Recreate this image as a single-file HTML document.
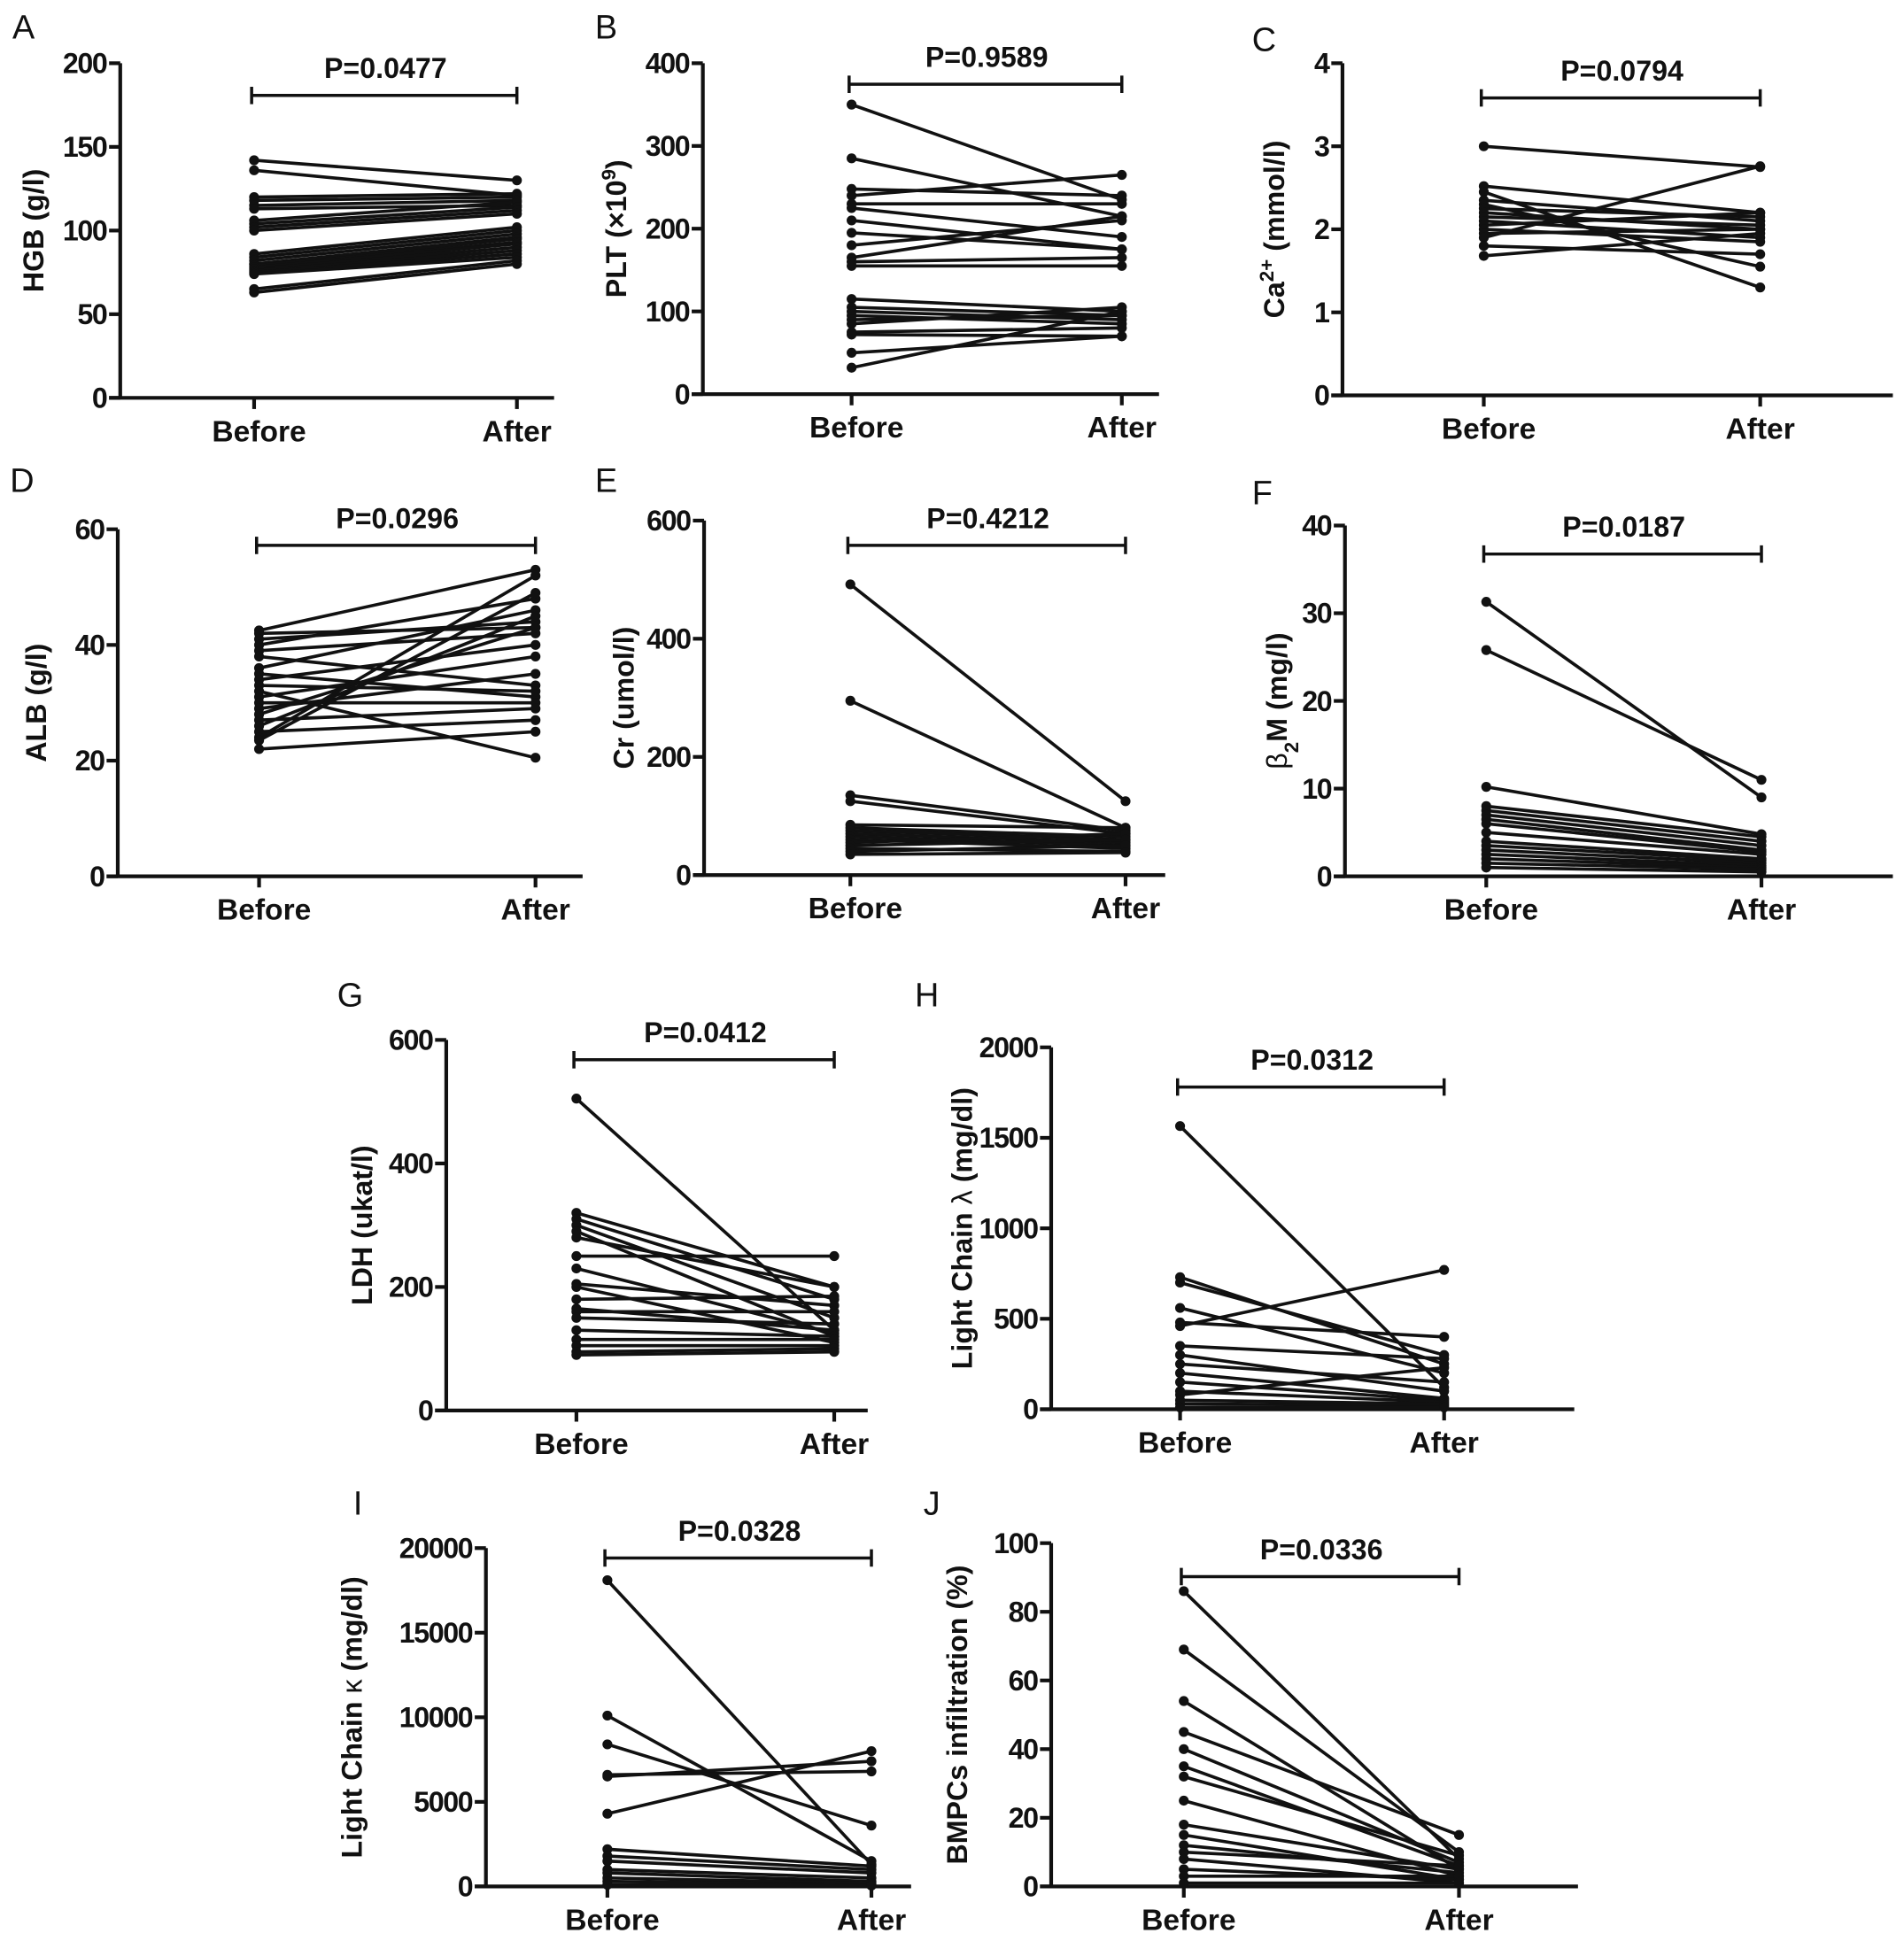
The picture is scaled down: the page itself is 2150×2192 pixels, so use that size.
<!DOCTYPE html>
<html><head><meta charset="utf-8">
<style>
html,body{margin:0;padding:0;background:#fff;}
svg{display:block;}
text{font-family:"Liberation Sans",Arial,sans-serif;fill:#111;}
.tk{font-size:23px;font-weight:bold;letter-spacing:-1px;}
.ttl{font-size:23px;font-weight:bold;}
.cat{font-size:24px;font-weight:bold;}
.pv{font-size:23px;font-weight:bold;}
.pl{font-size:27px;}
</style></head>
<body>
<svg id="fig" width="2150" height="2192" viewBox="0 0 1536 1566" xmlns="http://www.w3.org/2000/svg"></svg>
<script>
// ---- data (before / after values per panel) ----
const hgbBefore=[142,136,120,118,115,113,106,104,102,100,86,84,82,80,80,79,78,77,76,75,74,65,63];
const hgbAfter =[130,121,122,120,118,115,117,114,112,110,102,100,98,96,95,93,92,90,88,86,84,82,80];
const hgbTicks=[0,50,100,150,200];
const pltBefore=[350,285,248,240,230,225,210,195,180,165,160,155,115,105,100,95,90,85,75,72,50,32];
const pltAfter =[235,215,240,265,230,190,175,175,210,215,165,155,100,95,90,85,95,105,80,70,70,100];
const pltTicks=[0,100,200,300,400];
const caBefore=[3.0,2.52,2.45,2.35,2.3,2.25,2.2,2.15,2.1,2.05,2.0,1.95,1.9,1.8,1.68];
const caAfter =[2.75,2.2,1.3,2.1,1.55,2.15,2.0,2.05,1.9,2.2,1.85,2.0,2.76,1.7,1.95];
const caTicks=[0,1,2,3,4];
const albBefore=[42.5,42,41,40,39,38,36,35,34,33,32,31,30,29,28,27,26,25,24,23.5,22];
const albAfter =[53,43,44,48,42,33,46,31,40,32,20.5,38,30,35,43,29,45,27,52,49,25];
const albTicks=[0,20,40,60];
const crBefore=[492,295,135,125,85,80,75,70,65,60,55,50,45,40,35];
const crAfter =[125,80,75,70,80,65,60,55,50,45,70,60,40,50,38];
const crTicks=[0,200,400,600];
const b2mBefore=[31.3,25.8,10.2,8,7.5,7,6.5,6,5,4,3.5,3,2.5,2,1.5,1];
const b2mAfter =[9,11,4.8,4.5,4,3.5,3,2.8,2.5,2,1.8,1.5,1.2,1,0.8,0.5];
const b2mTicks=[0,10,20,30,40];
const ldhBefore=[505,320,310,300,290,280,250,230,205,200,180,165,160,150,130,115,105,95,90];
const ldhAfter =[130,200,180,150,120,200,250,125,170,110,185,130,160,140,120,115,105,100,95];
const ldhTicks=[0,200,400,600];
const lamBefore=[1565,730,700,560,480,460,350,300,250,200,150,100,80,50,30,10];
const lamAfter =[120,250,300,200,400,770,280,100,150,60,50,40,230,30,20,10];
const lamTicks=[0,500,1000,1500,2000];
const kapBefore=[18100,10100,8400,6600,6500,4300,2200,1800,1500,1000,800,500,300,100];
const kapAfter =[1300,1500,3600,6800,7400,8000,1200,1000,800,500,300,200,100,50];
const kapTicks=[0,5000,10000,15000,20000];
const bmBefore=[86,69,54,45,40,35,32,25,18,15,12,10,8,5,3,1];
const bmAfter =[8,10,5,15,7,6,9,3,5,2,4,6,1,2,3,1];
const bmTicks=[0,20,40,60,80,100];
const categories=["Before","After"];

const NS="http://www.w3.org/2000/svg";
const svg=document.getElementById('fig');
function mk(tag,attrs,parent,txt){const e=document.createElementNS(NS,tag);for(const k in attrs)e.setAttribute(k,attrs[k]);if(txt!==undefined)e.innerHTML=txt;(parent||svg).appendChild(e);return e;}

const panels=[
 {id:'a',lab:'A',lx:10,ly:31,ax:97,yt:51,yb:321,xe:447,bx:205,afx:417,sig:77,p:'0.0477',tx:27,title:'HGB (g/l)',b:hgbBefore,a:hgbAfter,t:hgbTicks},
 {id:'b',lab:'B',lx:480,ly:31,ax:567,yt:51,yb:318,xe:935,bx:687,afx:905,sig:68,p:'0.9589',tx:497,title:'PLT (×10<tspan baseline-shift="super" font-size="16">9</tspan>)',b:pltBefore,a:pltAfter,t:pltTicks},
 {id:'c',lab:'C',lx:1010,ly:41,ax:1083,yt:51,yb:319,xe:1527,bx:1197,afx:1420,sig:79,p:'0.0794',tx:1028,title:'Ca<tspan baseline-shift="super" font-size="16">2+</tspan> (mmol/l)',b:caBefore,a:caAfter,t:caTicks},
 {id:'d',lab:'D',lx:8,ly:397,ax:95,yt:427,yb:707,xe:470,bx:209,afx:432,sig:440,p:'0.0296',tx:29,title:'ALB (g/l)',b:albBefore,a:albAfter,t:albTicks},
 {id:'e',lab:'E',lx:480,ly:397,ax:568,yt:420,yb:706,xe:940,bx:686,afx:908,sig:440,p:'0.4212',tx:503,title:'Cr (umol/l)',b:crBefore,a:crAfter,t:crTicks},
 {id:'f',lab:'F',lx:1010,ly:407,ax:1085,yt:424,yb:707,xe:1527,bx:1199,afx:1421,sig:447,p:'0.0187',tx:1030,title:'<tspan font-weight="normal">β</tspan><tspan baseline-shift="sub" font-size="16">2</tspan>M (mg/l)',b:b2mBefore,a:b2mAfter,t:b2mTicks},
 {id:'g',lab:'G',lx:272,ly:812,ax:360,yt:839,yb:1138,xe:700,bx:465,afx:673,sig:855,p:'0.0412',tx:292,title:'LDH (ukat/l)',b:ldhBefore,a:ldhAfter,t:ldhTicks},
 {id:'h',lab:'H',lx:738,ly:812,ax:848,yt:845,yb:1137,xe:1270,bx:952,afx:1165,sig:877,p:'0.0312',tx:776,title:'Light Chain <tspan font-weight="normal">λ</tspan> (mg/dl)',b:lamBefore,a:lamAfter,t:lamTicks},
 {id:'i',lab:'I',lx:285,ly:1222,ax:392,yt:1249,yb:1522,xe:735,bx:490,afx:703,sig:1257,p:'0.0328',tx:284,title:'Light Chain <tspan font-weight="normal">κ</tspan> (mg/dl)',b:kapBefore,a:kapAfter,t:kapTicks},
 {id:'j',lab:'J',lx:745,ly:1222,ax:848,yt:1245,yb:1522,xe:1273,bx:955,afx:1177,sig:1272,p:'0.0336',tx:772,title:'BMPCs infiltration (%)',b:bmBefore,a:bmAfter,t:bmTicks}
];

panels.forEach(P=>{
  const g=mk('g',{});
  
  
  const ymax=P.t[P.t.length-1];
  const y=v=>P.yb-(v/ymax)*(P.yb-P.yt);
  const xs=[P.bx,P.afx];
  const pl=mk('text',{x:P.lx,y:P.ly,class:'pl'},g,P.lab);
  
  
  const ya=mk('line',{x1:P.ax,y1:P.yt,x2:P.ax,y2:P.yb,stroke:'#111','stroke-width':3},g);
  
  
  const xa=mk('line',{x1:P.ax-9,y1:P.yb,x2:P.xe,y2:P.yb,stroke:'#111','stroke-width':3},g);
  
  
  P.t.forEach(v=>{
    mk('line',{x1:P.ax-9,y1:y(v),x2:P.ax,y2:y(v),stroke:'#111','stroke-width':3},g);
    const tl=mk('text',{x:P.ax-11,y:y(v)+8,class:'tk','text-anchor':'end'},g,String(v));
    
    
  });
  categories.forEach((c,i)=>{
    mk('line',{x1:xs[i],y1:P.yb,x2:xs[i],y2:P.yb+9,stroke:'#111','stroke-width':3},g);
    const cl=mk('text',{x:xs[i]+(i?0:4),y:P.yb+35,class:'cat','text-anchor':'middle'},g,c);
    
    
  });
  const cy=(P.yt+P.yb)/2;
  const yt=mk('text',{x:P.tx,y:cy,class:'ttl','text-anchor':'middle',transform:`rotate(-90 ${P.tx} ${cy})`,dy:8},g,P.title);
  
  
  const sb=mk('path',{d:`M${P.bx-2},${P.sig-7}V${P.sig+7}M${P.bx-2},${P.sig}H${P.afx}M${P.afx},${P.sig-7}V${P.sig+7}`,stroke:'#111','stroke-width':2.5,fill:'none'},g);
  
  
  const pv=mk('text',{x:(P.bx+P.afx)/2,y:P.sig-14,class:'pv','text-anchor':'middle'},g,'P='+P.p);
  
  
  P.b.forEach((bv,i)=>{
    const av=P.a[i];
    const ln=mk('line',{x1:xs[0],y1:y(bv),x2:xs[1],y2:y(av),stroke:'#111','stroke-width':2.6},g);
    
    
    [[xs[0],bv],[xs[1],av]].forEach(([px,v])=>{
      const d=mk('circle',{cx:px,cy:y(v),r:4,fill:'#111'},g);
      
      
    });
  });
});
</script>
</body></html>
